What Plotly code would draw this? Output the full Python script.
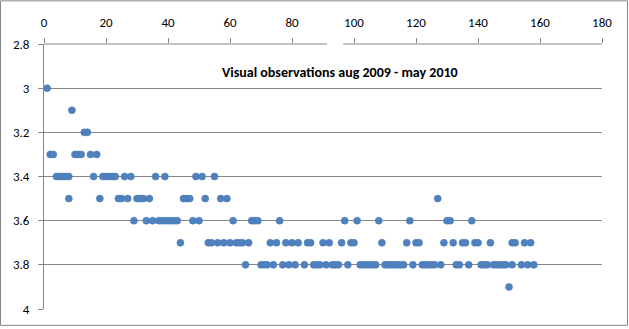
import plotly.graph_objects as go

# Visual magnitude estimates, grouped by estimated value (observation number -> magnitude)
obs_30 = [1]
obs_31 = [9]
obs_32 = [13, 14]
obs_33 = [2, 3, 10, 11, 12, 15, 17]
obs_34 = [4, 5, 6, 7, 8, 16, 19, 20, 21, 22, 23, 26, 28, 36, 39, 49, 51, 55]
obs_35 = [8, 18, 24, 25, 27, 30, 31, 32, 34, 45, 46, 47, 52, 57, 59, 127]
obs_36 = [29, 33, 35, 37, 38, 39, 40, 41, 42, 43, 48, 50, 61, 67, 68, 69,
          76, 97, 101, 108, 118, 130, 131, 138]
obs_37 = [44, 53, 54, 56, 58, 60, 62, 63, 64, 66, 73, 75, 78, 80, 82, 85, 86,
          90, 92, 96, 99, 100, 109, 117, 120, 121, 129, 132, 135, 136, 139,
          140, 144, 151, 152, 155, 157]
obs_38 = [65, 70, 71, 72, 74, 77, 79, 81, 84, 87, 88, 89, 91, 93, 94, 95, 98,
          102, 103, 104, 105, 106, 107, 110, 111, 112, 113, 114, 115, 116,
          119, 122, 123, 124, 125, 126, 128, 133, 134, 137, 141, 142, 143,
          145, 146, 147, 148, 149, 151, 154, 156, 158]
obs_39 = [150]

groups = [(3.0, obs_30), (3.1, obs_31), (3.2, obs_32), (3.3, obs_33),
          (3.4, obs_34), (3.5, obs_35), (3.6, obs_36), (3.7, obs_37),
          (3.8, obs_38), (3.9, obs_39)]

xs, ys = [], []
for mag, nums in groups:
    for n in nums:
        xs.append(n)
        ys.append(mag)

x_ticks = [0, 20, 40, 60, 80, 100, 120, 140, 160, 180]
y_ticks = [2.8, 3.0, 3.2, 3.4, 3.6, 3.8, 4.0]

W, H = 629, 329
L, R, T, B = 44, 27, 44, 18
pw, ph = W - L - R, H - T - B

def px_x(p):
    return (p - L) / pw

def px_y(p):
    return (H - B - p) / ph

grey = "#868686"

fig = go.Figure()
fig.add_trace(go.Scatter(
    x=xs, y=ys, mode="markers",
    marker=dict(size=7, color="#4F81BD", line=dict(width=0.6, color="#4A7EBB")),
    showlegend=False, cliponaxis=False,
))

shapes = [
    # top axis line, with a short break
    dict(type="line", xref="x", yref="paper", x0=0, x1=91.3, y0=1, y1=1,
         line=dict(color=grey, width=1)),
    dict(type="line", xref="x", yref="paper", x0=96.5, x1=180, y0=1, y1=1,
         line=dict(color=grey, width=1)),
    # chart area border
    dict(type="rect", xref="paper", yref="paper",
         x0=px_x(0.5), x1=px_x(627.5), y0=px_y(327.5), y1=px_y(0.5),
         line=dict(color=grey, width=1), layer="below"),
]

fig.update_layout(
    width=W, height=H,
    margin=dict(l=L, r=R, t=T, b=B),
    paper_bgcolor="white", plot_bgcolor="white",
    font=dict(family="Carlito, Liberation Sans, Arial", size=13, color="black"),
    shapes=shapes,
    annotations=[dict(
        text="<b>Visual observations aug 2009 - may 2010</b>",
        xref="paper", yref="paper", x=px_x(340), y=px_y(73),
        showarrow=False, font=dict(size=14, color="black"),
        xanchor="center", yanchor="middle",
    )],
    xaxis=dict(
        side="top", range=[0, 180], tickvals=x_ticks,
        showgrid=False, zeroline=False, showline=False,
        ticks="outside", ticklen=5, tickcolor=grey,
        tickfont=dict(size=13), ticklabelstandoff=6,
    ),
    yaxis=dict(
        range=[4.0, 2.8], tickvals=y_ticks,
        ticktext=["2.8", "3", "3.2", "3.4", "3.6", "3.8", "4"],
        showgrid=True, gridcolor=grey, gridwidth=1,
        zeroline=False, showline=True, linecolor=grey, linewidth=1,
        ticks="outside", ticklen=5, tickcolor=grey,
        tickfont=dict(size=13), ticklabelstandoff=6,
    ),
)

fig.write_html("out.html")
